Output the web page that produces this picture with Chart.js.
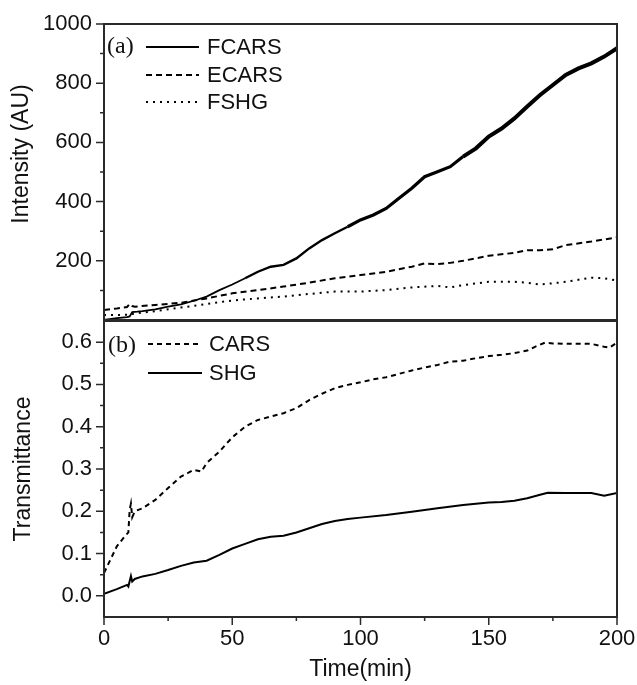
<!DOCTYPE html>
<html><head><meta charset="utf-8">
<script src="https://cdn.jsdelivr.net/npm/chart.js@4.4.1/dist/chart.umd.min.js"></script>
<style>
html,body{margin:0;padding:0;background:#fff;}
#wrap{position:relative;width:637px;height:685px;overflow:hidden;}
#ca{position:absolute;left:0;top:0;}
#cb{position:absolute;left:0;top:320px;}
</style></head><body>
<div id="wrap">
<canvas id="ca" width="637" height="321"></canvas>
<canvas id="cb" width="637" height="365"></canvas>
</div>
<script>
// ---- Panel (a): Intensity (AU) ----
const fcarsTime  = [0,5,9,10,11,13,15,20,25,30,35,40,45,50,55,60,65,70,75,80,85,90,95,100,105,110,115,120,125,130,135,140,145,150,155,160,165,170,175,180,185,190,195,200];
const fcarsValue = [0,6,10,12,27,28,30,36,45,53,65,79,101,120,141,163,180,186,208,242,270,293,315,338,355,377,411,445,484,501,518,552,580,620,647,681,721,760,794,828,850,867,890,918];

const ecarsTime  = [0,5,9,10,11,12,20,30,40,50,60,70,80,90,100,110,120,125,130,135,140,150,160,165,170,175,180,190,200];
const ecarsValue = [34,39,44,54,47,45,51,58,73,90,101,113,126,141,152,163,180,191,189,193,200,217,227,236,236,239,253,265,279];

const fshgTime  = [0,5,10,12,20,30,40,50,60,70,80,90,100,110,120,130,135,140,150,160,165,170,175,180,190,195,200];
const fshgValue = [17,17,18,22,30,42,54,66,73,79,88,96,96,101,110,115,110,118,129,129,126,120,124,129,143,141,133];

// ---- Panel (b): Transmittance ----
const carsTime  = [0,5,8,9.5,10,10.5,11,12,15,20,25,30,35,38,40,45,50,55,60,65,70,75,80,85,90,95,100,105,110,115,120,125,130,135,140,145,150,155,160,165,168,172,175,180,185,190,195,197,200];
const carsValue = [0.054,0.117,0.14,0.15,0.203,0.218,0.186,0.2,0.207,0.227,0.255,0.282,0.298,0.294,0.314,0.341,0.375,0.40,0.416,0.424,0.432,0.444,0.463,0.478,0.491,0.499,0.505,0.512,0.517,0.525,0.533,0.54,0.546,0.554,0.556,0.562,0.567,0.57,0.574,0.58,0.589,0.599,0.597,0.596,0.596,0.596,0.589,0.587,0.599];

const shgTime  = [0,5,9,9.5,10.5,11,12,15,20,25,30,35,40,45,50,55,60,65,70,75,80,85,90,95,100,110,120,130,140,150,155,160,165,170,173,180,190,195,200];
const shgValue = [0.005,0.016,0.026,0.022,0.047,0.034,0.04,0.046,0.052,0.061,0.071,0.079,0.083,0.097,0.112,0.123,0.134,0.14,0.142,0.15,0.16,0.17,0.177,0.182,0.185,0.191,0.199,0.207,0.215,0.221,0.222,0.225,0.231,0.239,0.244,0.243,0.243,0.237,0.243];

// ---- Tick labels ----
const timeTicks = [0,50,100,150,200];
const timeMinorTicks = [25,75,125,175];
const intensityTicks = [200,400,600,800,1000];
const intensityMinorTicks = [100,300,500,700,900];
const transTicks = [0,0.1,0.2,0.3,0.4,0.5,0.6];
const transMinorTicks = [0.05,0.15,0.25,0.35,0.45,0.55];

const toXY = (t, v) => t.map((x, i) => ({x: x, y: v[i]}));
const SANS = '"Liberation Sans", Arial, sans-serif';
const SERIF = '"Liberation Serif", "Times New Roman", serif';

const panelPlugin = {
  id: 'panel',
  afterDraw(chart, args, o) {
    const {ctx, chartArea: a} = chart;
    ctx.save();
    ctx.strokeStyle = '#2a2a2a';
    ctx.lineWidth = 2;
    ctx.strokeRect(a.left, a.top, a.right - a.left, a.bottom - a.top);
    ctx.lineWidth = 1.5;
    ctx.beginPath();
    const ys = chart.scales.y;
    o.yMajor.forEach(v => { const p = ys.getPixelForValue(v); ctx.moveTo(a.left - 8, p); ctx.lineTo(a.left, p); });
    o.yMinor.forEach(v => { const p = ys.getPixelForValue(v); ctx.moveTo(a.left - 4, p); ctx.lineTo(a.left, p); });
    if (o.xMajor) {
      const xs = chart.scales.x;
      o.xMajor.forEach(v => { const p = xs.getPixelForValue(v); ctx.moveTo(p, a.bottom); ctx.lineTo(p, a.bottom + 8); });
      o.xMinor.forEach(v => { const p = xs.getPixelForValue(v); ctx.moveTo(p, a.bottom); ctx.lineTo(p, a.bottom + 4); });
    }
    ctx.stroke();
    if (o.yTitle) {
      ctx.save();
      ctx.fillStyle = '#111';
      ctx.font = '23px ' + SANS;
      ctx.textAlign = 'center';
      ctx.textBaseline = 'middle';
      ctx.translate(o.yTitle.x, o.yTitle.y);
      ctx.rotate(-Math.PI / 2);
      ctx.fillText(o.yTitle.text, 0, 0);
      ctx.restore();
    }
    const L = o.legend;
    ctx.fillStyle = '#111';
    ctx.textBaseline = 'middle';
    ctx.textAlign = 'left';
    ctx.font = '24px ' + SERIF;
    ctx.fillText(L.tag, L.tagX, L.tagY);
    ctx.font = '22px ' + SANS;
    L.items.forEach(it => {
      const ds = chart.data.datasets[it.ds];
      ctx.save();
      ctx.strokeStyle = '#000';
      ctx.lineWidth = 2;
      ctx.setLineDash(ds.borderDash || []);
      ctx.beginPath();
      ctx.moveTo(L.x0, it.y); ctx.lineTo(L.x1, it.y);
      ctx.stroke();
      ctx.restore();
      ctx.fillText(ds.label, L.tx, it.y + 1);
    });
    ctx.restore();
  }
};

const fcarsWidth = (ctx) => {
  const t = ctx.p0.parsed.x;
  if (t < 55) return 1.8;
  if (t < 95) return 2.4;
  if (t < 140) return 3.2;
  return 4;
};

const fitY = (s) => { s.width = 104; s.paddingTop = 0; s.paddingBottom = 0; };
const fitX = (s) => { s.height = 68; s.paddingLeft = 0; s.paddingRight = 0; };

new Chart(document.getElementById('ca'), {
  type: 'line',
  data: {
    datasets: [
      {label: 'FCARS', data: toXY(fcarsTime, fcarsValue), borderColor: '#000', borderWidth: 2, pointRadius: 0, tension: 0,
       segment: {borderWidth: fcarsWidth}},
      {label: 'ECARS', data: toXY(ecarsTime, ecarsValue), borderColor: '#000', borderWidth: 2, borderDash: [6,4], pointRadius: 0, tension: 0},
      {label: 'FSHG', data: toXY(fshgTime, fshgValue), borderColor: '#000', borderWidth: 2, borderDash: [2,5], pointRadius: 0, tension: 0}
    ]
  },
  options: {
    responsive: false, animation: false, events: [],
    layout: {padding: {top: 24, right: 20, left: 0, bottom: 1}},
    plugins: {
      legend: {display: false}, tooltip: {enabled: false},
      panel: {
        yMajor: intensityTicks, yMinor: intensityMinorTicks,
        yTitle: {text: 'Intensity (AU)', x: 22, y: 154},
        legend: {tag: '(a)', tagX: 107, tagY: 47, x0: 146, x1: 199, tx: 207,
                 items: [{ds: 0, y: 47}, {ds: 1, y: 75}, {ds: 2, y: 102}]}
      }
    },
    scales: {
      x: {type: 'linear', min: 0, max: 200, display: false},
      y: {
        type: 'linear', min: 0, max: 1000,
        grid: {display: false, drawTicks: false}, border: {display: false},
        afterFit: fitY,
        afterBuildTicks: (s) => { s.ticks = intensityTicks.map(v => ({value: v})); },
        ticks: {padding: 12, color: '#111', font: {family: SANS, size: 22}, callback: (v) => String(v)}
      }
    }
  },
  plugins: [panelPlugin]
});

new Chart(document.getElementById('cb'), {
  type: 'line',
  data: {
    datasets: [
      {label: 'CARS', data: toXY(carsTime, carsValue), borderColor: '#000', borderWidth: 2, borderDash: [5,4], pointRadius: 0, tension: 0},
      {label: 'SHG', data: toXY(shgTime, shgValue), borderColor: '#000', borderWidth: 2, pointRadius: 0, tension: 0}
    ]
  },
  options: {
    responsive: false, animation: false, events: [],
    layout: {padding: {top: 1, right: 20, left: 0, bottom: 0}},
    plugins: {
      legend: {display: false}, tooltip: {enabled: false},
      panel: {
        yMajor: transTicks, yMinor: transMinorTicks,
        xMajor: timeTicks, xMinor: timeMinorTicks,
        legend: {tag: '(b)', tagX: 108, tagY: 26, x0: 148, x1: 202, tx: 209,
                 items: [{ds: 0, y: 24}, {ds: 1, y: 53}]}
      }
    },
    scales: {
      x: {
        type: 'linear', min: 0, max: 200,
        grid: {display: false, drawTicks: false}, border: {display: false},
        afterFit: fitX,
        afterBuildTicks: (s) => { s.ticks = timeTicks.map(v => ({value: v})); },
        ticks: {padding: 9, color: '#111', autoSkip: false, maxRotation: 0, font: {family: SANS, size: 22}, callback: (v) => String(v)},
        title: {display: true, text: 'Time(min)', color: '#111', font: {family: SANS, size: 23}, padding: {top: 0, bottom: 2}}
      },
      y: {
        type: 'linear', min: -0.05, max: 0.65,
        grid: {display: false, drawTicks: false}, border: {display: false},
        afterFit: fitY,
        afterBuildTicks: (s) => { s.ticks = transTicks.map(v => ({value: v})); },
        ticks: {padding: 12, color: '#111', font: {family: SANS, size: 22}, callback: (v) => (Math.round(v * 10) / 10).toFixed(1)},
        title: {display: true, text: 'Transmittance', color: '#111', font: {family: SANS, size: 23}, padding: {top: 10, bottom: 0}}
      }
    }
  },
  plugins: [panelPlugin]
});
</script>
</body></html>
